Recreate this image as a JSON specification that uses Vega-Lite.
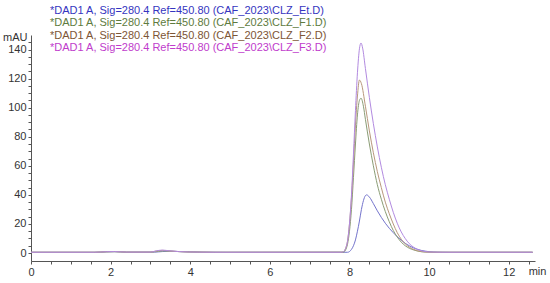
{
  "$schema": "https://vega.github.io/schema/vega-lite/v6.json",
  "autosize": {"type": "none"},
  "padding": {"left": 31, "top": 35, "right": 15, "bottom": 22},
  "width": 504,
  "height": 226,
  "background": "white",
  "config": {
    "view": {"stroke": null},
    "font": "Liberation Sans"
  },
  "datasets": {
    "chrom": [
      {"t": 0, "y": 0.5, "s": "Et"}, {"t": 1.6, "y": 0.5, "s": "Et"}, {"t": 1.9, "y": 0.8, "s": "Et"}, {"t": 2.1, "y": 0.9, "s": "Et"}, {"t": 2.4, "y": 0.6, "s": "Et"}, {"t": 3.1, "y": 0.6, "s": "Et"}, {"t": 3.3, "y": 1.0, "s": "Et"}, {"t": 3.5, "y": 1.2, "s": "Et"}, {"t": 3.8, "y": 0.9, "s": "Et"}, {"t": 4.3, "y": 0.6, "s": "Et"}, {"t": 4.8, "y": 0.5, "s": "Et"}, {"t": 7.95, "y": 0.5, "s": "Et"}, {"t": 8.0, "y": 1, "s": "Et"}, {"t": 8.05, "y": 2.5, "s": "Et"}, {"t": 8.1, "y": 5, "s": "Et"}, {"t": 8.15, "y": 9, "s": "Et"}, {"t": 8.2, "y": 15, "s": "Et"}, {"t": 8.25, "y": 22, "s": "Et"}, {"t": 8.3, "y": 30, "s": "Et"}, {"t": 8.35, "y": 36, "s": "Et"}, {"t": 8.4, "y": 39.5, "s": "Et"}, {"t": 8.43, "y": 40, "s": "Et"}, {"t": 8.5, "y": 38.5, "s": "Et"}, {"t": 8.6, "y": 34, "s": "Et"}, {"t": 8.7, "y": 29, "s": "Et"}, {"t": 8.8, "y": 24.5, "s": "Et"}, {"t": 8.9, "y": 20.5, "s": "Et"}, {"t": 9.0, "y": 17, "s": "Et"}, {"t": 9.1, "y": 14, "s": "Et"}, {"t": 9.2, "y": 11.2, "s": "Et"}, {"t": 9.3, "y": 8.8, "s": "Et"}, {"t": 9.4, "y": 6.7, "s": "Et"}, {"t": 9.5, "y": 5, "s": "Et"}, {"t": 9.6, "y": 3.6, "s": "Et"}, {"t": 9.7, "y": 2.6, "s": "Et"}, {"t": 9.8, "y": 1.8, "s": "Et"}, {"t": 9.9, "y": 1.3, "s": "Et"}, {"t": 10.0, "y": 0.9, "s": "Et"}, {"t": 10.2, "y": 0.6, "s": "Et"}, {"t": 10.5, "y": 0.5, "s": "Et"}, {"t": 12.6, "y": 0.5, "s": "Et"},

      {"t": 0, "y": 0.5, "s": "F1"}, {"t": 1.6, "y": 0.5, "s": "F1"}, {"t": 1.9, "y": 0.8, "s": "F1"}, {"t": 2.1, "y": 0.9, "s": "F1"}, {"t": 2.4, "y": 0.6, "s": "F1"}, {"t": 3.0, "y": 0.6, "s": "F1"}, {"t": 3.2, "y": 1.1, "s": "F1"}, {"t": 3.35, "y": 1.4, "s": "F1"}, {"t": 3.6, "y": 1.1, "s": "F1"}, {"t": 4.0, "y": 0.7, "s": "F1"}, {"t": 4.6, "y": 0.5, "s": "F1"}, {"t": 7.85, "y": 0.6, "s": "F1"}, {"t": 7.9, "y": 2, "s": "F1"}, {"t": 7.95, "y": 6, "s": "F1"}, {"t": 8.0, "y": 15, "s": "F1"}, {"t": 8.05, "y": 30, "s": "F1"}, {"t": 8.1, "y": 52, "s": "F1"}, {"t": 8.15, "y": 75, "s": "F1"}, {"t": 8.2, "y": 95, "s": "F1"}, {"t": 8.25, "y": 105, "s": "F1"}, {"t": 8.29, "y": 106.5, "s": "F1"}, {"t": 8.35, "y": 101, "s": "F1"}, {"t": 8.4, "y": 92, "s": "F1"}, {"t": 8.5, "y": 75, "s": "F1"}, {"t": 8.6, "y": 60, "s": "F1"}, {"t": 8.7, "y": 47, "s": "F1"}, {"t": 8.8, "y": 37, "s": "F1"}, {"t": 8.9, "y": 28.5, "s": "F1"}, {"t": 9.0, "y": 21.5, "s": "F1"}, {"t": 9.1, "y": 15.5, "s": "F1"}, {"t": 9.2, "y": 11, "s": "F1"}, {"t": 9.3, "y": 7.5, "s": "F1"}, {"t": 9.4, "y": 5, "s": "F1"}, {"t": 9.5, "y": 3.3, "s": "F1"}, {"t": 9.6, "y": 2.2, "s": "F1"}, {"t": 9.7, "y": 1.4, "s": "F1"}, {"t": 9.8, "y": 0.9, "s": "F1"}, {"t": 10.0, "y": 0.6, "s": "F1"}, {"t": 10.3, "y": 0.5, "s": "F1"}, {"t": 12.6, "y": 0.5, "s": "F1"},

      {"t": 0, "y": 0.5, "s": "F2"}, {"t": 1.6, "y": 0.5, "s": "F2"}, {"t": 1.9, "y": 0.9, "s": "F2"}, {"t": 2.1, "y": 1.0, "s": "F2"}, {"t": 2.4, "y": 0.6, "s": "F2"}, {"t": 3.0, "y": 0.6, "s": "F2"}, {"t": 3.15, "y": 1.4, "s": "F2"}, {"t": 3.3, "y": 1.8, "s": "F2"}, {"t": 3.45, "y": 1.5, "s": "F2"}, {"t": 3.7, "y": 1.0, "s": "F2"}, {"t": 4.2, "y": 0.6, "s": "F2"}, {"t": 4.6, "y": 0.5, "s": "F2"}, {"t": 7.8, "y": 0.5, "s": "F2"}, {"t": 7.85, "y": 1, "s": "F2"}, {"t": 7.9, "y": 3, "s": "F2"}, {"t": 7.95, "y": 8, "s": "F2"}, {"t": 8.0, "y": 20, "s": "F2"}, {"t": 8.05, "y": 38, "s": "F2"}, {"t": 8.1, "y": 62, "s": "F2"}, {"t": 8.15, "y": 88, "s": "F2"}, {"t": 8.2, "y": 108, "s": "F2"}, {"t": 8.25, "y": 119, "s": "F2"}, {"t": 8.3, "y": 116.5, "s": "F2"}, {"t": 8.4, "y": 101, "s": "F2"}, {"t": 8.5, "y": 84, "s": "F2"}, {"t": 8.6, "y": 69, "s": "F2"}, {"t": 8.7, "y": 56, "s": "F2"}, {"t": 8.8, "y": 45, "s": "F2"}, {"t": 8.9, "y": 35, "s": "F2"}, {"t": 9.0, "y": 27, "s": "F2"}, {"t": 9.1, "y": 20, "s": "F2"}, {"t": 9.2, "y": 14, "s": "F2"}, {"t": 9.3, "y": 9.5, "s": "F2"}, {"t": 9.4, "y": 6.3, "s": "F2"}, {"t": 9.5, "y": 4.1, "s": "F2"}, {"t": 9.6, "y": 2.6, "s": "F2"}, {"t": 9.7, "y": 1.6, "s": "F2"}, {"t": 9.8, "y": 1.0, "s": "F2"}, {"t": 9.9, "y": 0.7, "s": "F2"}, {"t": 10.1, "y": 0.5, "s": "F2"}, {"t": 12.6, "y": 0.5, "s": "F2"},

      {"t": 0, "y": 0.5, "s": "F3"}, {"t": 1.6, "y": 0.5, "s": "F3"}, {"t": 1.9, "y": 0.9, "s": "F3"}, {"t": 2.1, "y": 1.0, "s": "F3"}, {"t": 2.4, "y": 0.6, "s": "F3"}, {"t": 3.0, "y": 0.6, "s": "F3"}, {"t": 3.15, "y": 1.5, "s": "F3"}, {"t": 3.3, "y": 2.0, "s": "F3"}, {"t": 3.45, "y": 1.6, "s": "F3"}, {"t": 3.7, "y": 1.0, "s": "F3"}, {"t": 4.2, "y": 0.6, "s": "F3"}, {"t": 4.6, "y": 0.5, "s": "F3"}, {"t": 7.8, "y": 0.5, "s": "F3"}, {"t": 7.85, "y": 1, "s": "F3"}, {"t": 7.9, "y": 3, "s": "F3"}, {"t": 7.95, "y": 8, "s": "F3"}, {"t": 8.0, "y": 20, "s": "F3"}, {"t": 8.05, "y": 40, "s": "F3"}, {"t": 8.1, "y": 68, "s": "F3"}, {"t": 8.15, "y": 98, "s": "F3"}, {"t": 8.2, "y": 124, "s": "F3"}, {"t": 8.25, "y": 140.5, "s": "F3"}, {"t": 8.29, "y": 144.5, "s": "F3"}, {"t": 8.33, "y": 141, "s": "F3"}, {"t": 8.4, "y": 127, "s": "F3"}, {"t": 8.5, "y": 107, "s": "F3"}, {"t": 8.6, "y": 89, "s": "F3"}, {"t": 8.7, "y": 73, "s": "F3"}, {"t": 8.8, "y": 59, "s": "F3"}, {"t": 8.9, "y": 47, "s": "F3"}, {"t": 9.0, "y": 37, "s": "F3"}, {"t": 9.1, "y": 28, "s": "F3"}, {"t": 9.2, "y": 20.5, "s": "F3"}, {"t": 9.3, "y": 14.5, "s": "F3"}, {"t": 9.4, "y": 10, "s": "F3"}, {"t": 9.5, "y": 6.5, "s": "F3"}, {"t": 9.6, "y": 4.2, "s": "F3"}, {"t": 9.7, "y": 2.6, "s": "F3"}, {"t": 9.8, "y": 1.6, "s": "F3"}, {"t": 9.9, "y": 1.0, "s": "F3"}, {"t": 10.0, "y": 0.7, "s": "F3"}, {"t": 10.3, "y": 0.5, "s": "F3"}, {"t": 12.6, "y": 0.5, "s": "F3"}
    ]
  },
  "data": {"name": "chrom"},
  "mark": {"type": "line", "strokeWidth": 1, "clip": true, "interpolate": "monotone"},
  "encoding": {
    "x": {
      "field": "t", "type": "quantitative",
      "scale": {"domain": [0, 12.66], "nice": false, "zero": false},
      "axis": {
        "values": [0,0.5,1,1.5,2,2.5,3,3.5,4,4.5,5,5.5,6,6.5,7,7.5,8,8.5,9,9.5,10,10.5,11,11.5,12,12.5],
        "labelExpr": "datum.value % 2 === 0 ? format(datum.value, 'd') : ''",
        "grid": false,
        "domainColor": "#555555",
        "tickColor": "#555555",
        "tickSize": 3,
        "labelFontSize": 11,
        "labelColor": "#333333",
        "labelPadding": 2,
        "labelFlush": false,
        "title": "min",
        "titleFontSize": 11,
        "titleFontWeight": "normal",
        "titleColor": "#333333",
        "titleX": 506,
        "titleY": 10,
        "titleBaseline": "middle",
        "titleAlign": "center",
        "titleAnchor": null
      }
    },
    "y": {
      "field": "y", "type": "quantitative",
      "scale": {"domain": [-5.5, 150], "nice": false, "zero": false},
      "axis": {
        "values": [0,5,10,15,20,25,30,35,40,45,50,55,60,65,70,75,80,85,90,95,100,105,110,115,120,125,130,135,140,145],
        "labelExpr": "datum.value % 20 === 0 ? format(datum.value, 'd') : ''",
        "grid": false,
        "domainColor": "#555555",
        "tickColor": "#555555",
        "tickSize": 3,
        "labelFontSize": 11,
        "labelColor": "#333333",
        "labelPadding": 2,
        "title": "mAU",
        "titleAngle": 0,
        "titleFontSize": 11,
        "titleFontWeight": "normal",
        "titleColor": "#333333",
        "titleX": -4,
        "titleY": 2,
        "titleAlign": "right",
        "titleBaseline": "middle"
      }
    },
    "color": {
      "field": "s", "type": "nominal",
      "scale": {"domain": ["Et", "F1", "F2", "F3"], "range": ["#7474cc", "#8a9c74", "#b8977c", "#b28ae0"]},
      "legend": {
        "orient": "none",
        "legendX": 8,
        "legendY": -30,
        "title": null,
        "symbolSize": 0,
        "symbolStrokeWidth": 0,
        "symbolOpacity": 0,
        "labelOffset": 0,
        "labelFontSize": 11,
        "labelLimit": 500,
        "rowPadding": 0.5,
        "labelExpr": "'*DAD1 A, Sig=280.4 Ref=450.80 (CAF_2023\\\\CLZ_' + datum.label + '.D)'",
        "encode": {
          "labels": {
            "update": {
              "fill": {"signal": "datum.value === 'Et' ? '#3535c0' : datum.value === 'F1' ? '#5e7b3e' : datum.value === 'F2' ? '#7d5535' : '#c03ccc'"}
            }
          }
        }
      }
    },
    "order": {"field": "t", "type": "quantitative"}
  }
}
